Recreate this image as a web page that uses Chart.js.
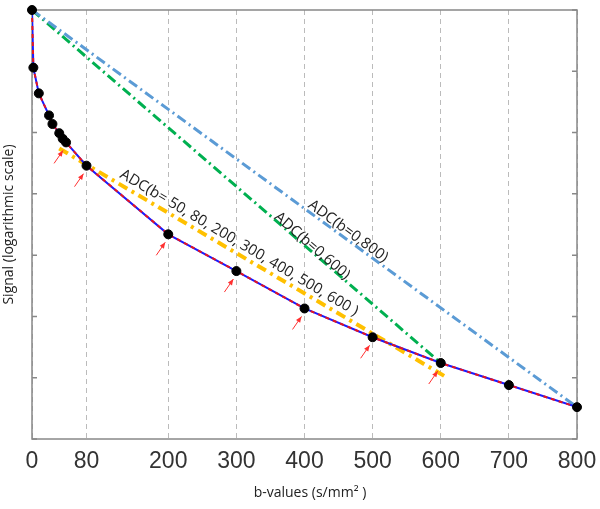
<!DOCTYPE html>
<html lang="en">
<head>
  <meta charset="UTF-8" />
  <title>ADC b-values</title>
  <script src="https://cdn.jsdelivr.net/npm/chart.js@4.4.1/dist/chart.umd.min.js"></script>
  <style>
    body { margin: 0; background: #fff; }
    #wrap { width: 600px; height: 509px; }
  </style>
</head>
<body>
<div id="wrap"><canvas id="grafico"></canvas></div>

<script>
  // measured signal (log units, arbitrary) per b-value
  const bValues = [0, 2, 10, 25, 30, 40, 45, 50, 80, 200, 300, 400, 500, 600, 700, 800];
  const logSignal = [7.0, 6.06, 5.64, 5.28, 5.14, 4.99, 4.90, 4.84, 4.46, 3.34, 2.74, 2.13, 1.66, 1.24, 0.88, 0.52];
  const xTicks = [0, 80, 200, 300, 400, 500, 600, 700, 800];

  // ADC fit lines: b range and signal at both ends
  const adc800B = [0, 800], adc800S = [7.0, 0.52];
  const adc600B = [0, 600], adc600S = [7.0, 1.24];
  const adcMultiB = [40, 605], adcMultiS = [4.74, 1.03];

  // b-values marked with a red arrow
  const arrowB = [50, 80, 200, 300, 400, 500, 600];

  // labels along the fit lines (b, signal of the text centre)
  const lineLabels = [
    { text: 'ADC(b=0,800)', b: 464, s: 3.39, fit: 0 },
    { text: 'ADC(b=0,600)', b: 411, s: 3.15, fit: 1 },
    { text: 'ADC(b= 50, 80, 200, 300, 400, 500, 600 )', b: 304, s: 3.20, fit: 2 }
  ];

  const pts = (bs, ss) => bs.map((b, i) => ({ x: b, y: ss[i] }));
  const fits = [pts(adc800B, adc800S), pts(adc600B, adc600S), pts(adcMultiB, adcMultiS)];

  const extras = {
    id: 'extras',
    beforeDatasetsDraw(chart) {
      const { ctx, chartArea: a, scales: { y } } = chart;
      ctx.save();
      ctx.strokeStyle = '#888';
      ctx.lineWidth = 1.5;
      ctx.strokeRect(a.left, a.top, a.right - a.left, a.bottom - a.top);
      ctx.beginPath();
      y.ticks.forEach(t => {
        const py = y.getPixelForValue(t.value);
        ctx.moveTo(a.left, py); ctx.lineTo(a.left + 5, py);
        ctx.moveTo(a.right, py); ctx.lineTo(a.right - 5, py);
      });
      ctx.stroke();
      ctx.restore();
    },
    afterDatasetsDraw(chart) {
      const { ctx, scales: { x, y } } = chart;
      ctx.save();

      // red arrows
      ctx.strokeStyle = '#ff3030';
      ctx.fillStyle = '#ff3030';
      ctx.lineWidth = 1;
      arrowB.forEach(b => {
        const i = bValues.indexOf(b);
        const px = x.getPixelForValue(b), py = y.getPixelForValue(logSignal[i]);
        const hx = px - 3, hy = py + 8, tx = px - 12, ty = py + 21;
        const ang = Math.atan2(hy - ty, hx - tx);
        ctx.beginPath(); ctx.moveTo(tx, ty); ctx.lineTo(hx, hy); ctx.stroke();
        ctx.beginPath();
        ctx.moveTo(hx, hy);
        ctx.lineTo(hx - 6 * Math.cos(ang) + 2.5 * Math.sin(ang), hy - 6 * Math.sin(ang) - 2.5 * Math.cos(ang));
        ctx.lineTo(hx - 6 * Math.cos(ang) - 2.5 * Math.sin(ang), hy - 6 * Math.sin(ang) + 2.5 * Math.cos(ang));
        ctx.closePath(); ctx.fill();
      });

      // rotated labels
      ctx.fillStyle = '#222';
      ctx.font = '15px "Open Sans"';
      ctx.textAlign = 'center';
      ctx.textBaseline = 'middle';
      lineLabels.forEach(l => {
        const f = fits[l.fit];
        const ang = Math.atan2(y.getPixelForValue(f[1].y) - y.getPixelForValue(f[0].y),
                               x.getPixelForValue(f[1].x) - x.getPixelForValue(f[0].x));
        ctx.save();
        ctx.translate(x.getPixelForValue(l.b), y.getPixelForValue(l.s));
        ctx.rotate(ang);
        ctx.fillText(l.text, 0, 0);
        ctx.restore();
      });
      ctx.restore();
    }
  };

  const ctx = document.getElementById('grafico').getContext('2d');
  const grafico = new Chart(ctx, {
    type: 'line',
    data: {
      datasets: [
        { data: pts(bValues, logSignal), borderColor: '#e8141e', borderWidth: 2, borderDash: [4, 4],
          pointRadius: 4.5, pointBorderWidth: 1, pointBackgroundColor: '#000', pointBorderColor: '#000', clip: false, order: 0 },
        { data: pts(bValues, logSignal), borderColor: '#1a1aff', borderWidth: 2, pointRadius: 0, order: 1 },
        { data: fits[0], borderColor: '#5b9bd5', borderWidth: 3, borderDash: [10, 4, 2, 4], pointRadius: 0, order: 2 },
        { data: fits[1], borderColor: '#00b050', borderWidth: 3, borderDash: [10, 4, 2, 4], pointRadius: 0, order: 3 },
        { data: fits[2], borderColor: '#ffc000', borderWidth: 4, borderDash: [10, 5, 3, 5], pointRadius: 0, order: 4 }
      ]
    },
    options: {
      responsive: true,
      maintainAspectRatio: false,
      animation: false,
      layout: { padding: { top: 10, right: 23, left: 0, bottom: 0 } },
      plugins: { legend: { display: false }, tooltip: { enabled: false } },
      scales: {
        x: {
          type: 'linear', min: 0, max: 800,
          afterBuildTicks: s => { s.ticks = xTicks.map(v => ({ value: v })); },
          afterFit: s => { s.height = 70; s.paddingLeft = 0; s.paddingRight = 0; },
          grid: { color: '#bbb', lineWidth: 1, drawTicks: false },
          border: { display: false, dash: [5, 4] },
          ticks: { color: '#333', padding: 9, font: { family: '"Liberation Sans", Arial', size: 23 } },
          title: { display: true, text: '   b-values (s/mm² )', color: '#222',
                   font: { family: '"Open Sans"', size: 14 }, padding: { top: 0, bottom: 8 } }
        },
        y: {
          min: 0, max: 7,
          afterFit: s => { s.width = 32; },
          grid: { display: false },
          border: { display: false },
          ticks: { display: false, stepSize: 1 },
          title: { display: true, text: 'Signal (logarithmic scale)', color: '#222',
                   font: { family: '"Open Sans"', size: 14 }, padding: { top: 1, bottom: 0 } }
        }
      }
    },
    plugins: [extras]
  });
</script>
</body>
</html>
